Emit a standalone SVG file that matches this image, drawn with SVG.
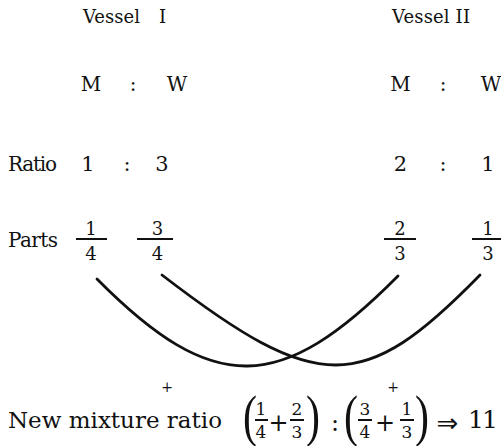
<svg xmlns="http://www.w3.org/2000/svg" width="501" height="446" viewBox="0 0 501 446">
<style>
text{font-family:"DejaVu Serif","Liberation Serif",serif;fill:#111}
.h{font-size:18px}
.mw{font-size:20px;text-anchor:middle}
.lab{font-size:20px}
.num{font-size:21px;text-anchor:middle}
.fr{font-size:18px;text-anchor:middle}
.bf{font-size:17px;text-anchor:middle}
.big{font-size:23px}
.op{font-size:24px;text-anchor:middle}
.sm{font-size:14px;text-anchor:middle}
.par{font-family:"Liberation Serif",serif;font-size:56px;text-anchor:middle}
.bar{stroke:#111;stroke-width:2}
.curve{fill:none;stroke:#111;stroke-width:2.8;stroke-linecap:round}
</style>
<rect width="501" height="446" fill="#fff"/>
<g id="vessel-1">
<text class="h" x="83" y="23">Vessel <tspan x="159">I</tspan></text>
<text class="mw" x="91" y="91">M</text>
<text class="mw" x="133" y="91">:</text>
<text class="mw" x="177" y="91">W</text>
<text class="num" x="88" y="171">1</text>
<text class="num" x="127" y="171">:</text>
<text class="num" x="162" y="171">3</text>
<text class="fr" x="91" y="235">1</text>
<line class="bar" x1="76" y1="239" x2="107" y2="239"/>
<text class="fr" x="91" y="260">4</text>
<text class="fr" x="157.5" y="235">3</text>
<line class="bar" x1="137" y1="239" x2="173" y2="239"/>
<text class="fr" x="157.5" y="260">4</text>
</g>
<g id="vessel-2">
<text class="h" x="392" y="23" textLength="78">Vessel II</text>
<text class="mw" x="400.5" y="91">M</text>
<text class="mw" x="443" y="91">:</text>
<text class="mw" x="491" y="91">W</text>
<text class="num" x="400.5" y="171">2</text>
<text class="num" x="443" y="171">:</text>
<text class="num" x="488" y="171">1</text>
<text class="fr" x="400" y="235">2</text>
<line class="bar" x1="384" y1="239" x2="416" y2="239"/>
<text class="fr" x="400" y="260">3</text>
<text class="fr" x="488" y="235">1</text>
<line class="bar" x1="472" y1="239" x2="501" y2="239"/>
<text class="fr" x="488" y="260">3</text>
</g>
<g id="row-labels">
<text class="lab" x="8" y="171" textLength="49">Ratio</text>
<text class="lab" x="8" y="247" textLength="50">Parts</text>
</g>
<g id="connectors">
<path class="curve" d="M97,279 C214,397 281,394 398,276"/>
<path class="curve" d="M162,275 C318,395 363,395 480,275"/>
</g>
<g id="plus-marks">
<text class="sm" x="167" y="392">+</text>
<text class="sm" x="393" y="392">+</text>
</g>
<g id="new-mixture">
<text class="big" x="8" y="428" textLength="214">New mixture ratio</text>
<text class="par" transform="translate(250,435) scale(0.75,1)">(</text>
<text class="bf" x="261" y="415">1</text>
<line class="bar" x1="255" y1="420" x2="268" y2="420"/>
<text class="bf" x="261" y="438">4</text>
<text class="op" x="278.5" y="431">+</text>
<text class="bf" x="297" y="415">2</text>
<line class="bar" x1="290" y1="420" x2="304" y2="420"/>
<text class="bf" x="297" y="438">3</text>
<text class="par" transform="translate(313,435) scale(0.75,1)">)</text>
<text class="op" x="335" y="431">:</text>
<text class="par" transform="translate(351,435) scale(0.75,1)">(</text>
<text class="bf" x="365" y="415">3</text>
<line class="bar" x1="358" y1="420" x2="372" y2="420"/>
<text class="bf" x="365" y="438">4</text>
<text class="op" x="385" y="431">+</text>
<text class="bf" x="407" y="415">1</text>
<line class="bar" x1="400" y1="420" x2="414" y2="420"/>
<text class="bf" x="407" y="438">3</text>
<text class="par" transform="translate(422,435) scale(0.75,1)">)</text>
<text x="447.5" y="432" style="font-family:'DejaVu Sans',sans-serif;font-size:26px;text-anchor:middle">⇒</text>
<text class="big" x="468" y="428" style="font-size:25px" textLength="30">11</text>
</g>
</svg>
